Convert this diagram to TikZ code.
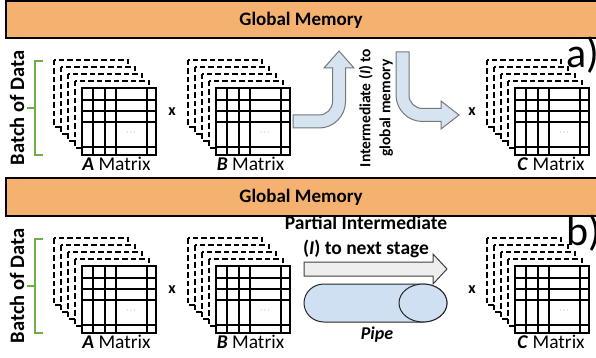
\documentclass[tikz,border=0pt]{standalone}
\usepackage{fontspec}
\setmainfont{Carlito}
\definecolor{gmem}{RGB}{245,177,112}
\definecolor{abluefill}{RGB}{214,228,242}
\definecolor{aborder}{RGB}{120,120,120}
\definecolor{pipefill}{RGB}{207,224,242}
\definecolor{grayfill}{RGB}{238,238,238}
\definecolor{bracegreen}{RGB}{112,173,71}
\tikzset{
  membar/.style={fill=gmem,draw=black,line width=1.3pt},
  layer/.style={draw=black,fill=white,dash pattern=on 5.5pt off 3pt,line width=1.2pt},
  gridline/.style={draw=black,line width=1.5pt},
  bigtxt/.style={font=\fontsize{19.5}{21}\selectfont},
  boldtxt/.style={font=\bfseries\fontsize{19}{21}\selectfont},
  batchtxt/.style={font=\bfseries\fontsize{20.5}{22}\selectfont},
  timestxt/.style={font=\bfseries\fontsize{16}{17}\selectfont},
  paneltxt/.style={font=\fontsize{42}{44}\selectfont,inner sep=0pt},
  batchbrace/.style={draw=bracegreen,line width=1.5pt},
  bluearrow/.style={fill=abluefill,draw=aborder,line width=1pt},
  grayarrow/.style={fill=grayfill,draw=black!75,line width=1pt},
  pipebody/.style={fill=pipefill,draw=black!85,line width=1pt}
}
\newcommand\mystack[2]{%
  \begin{scope}[shift={(#1,#2)}]
    \foreach \k in {4,3,2,1} {\path[layer] ({-7*\k},{-7*\k}) rectangle ++(74,67);}
    \fill[white] (0,0) rectangle (74,67);
    \draw[gridline] (0,0) rectangle (74,67);
    \foreach \c in {11,23,34,65} {\draw[gridline] (\c,0) -- (\c,67);}
    \foreach \r in {12,23,34,59} {\draw[gridline] (0,\r) -- (74,\r);}
    \node[font=\fontsize{8}{8}\selectfont,text=black!70] at (49,45) {$\cdots$};
  \end{scope}}
\begin{document}
\begin{tikzpicture}[x=1pt,y=-1pt]
\useasboundingbox (0,0) rectangle (596,358);
% ---------- panel a ----------
\path[membar] (6,1) rectangle (610,38);
\node[boldtxt] (gma) at (301,20) {Global Memory};
\mystack{82}{88}
\mystack{216}{88}
\mystack{515}{88}
\node[bigtxt,anchor=base] (laa) at (116.5,170) {\textbf{\textit{A}} Matrix};
\node[bigtxt,anchor=base] (lba) at (250.5,170) {\textbf{\textit{B}} Matrix};
\node[bigtxt,anchor=base] (lca) at (551,170) {\textbf{\textit{C}} Matrix};
\node[timestxt] (xa1) at (172,112) {x};
\node[timestxt] (xa2) at (472,112) {x};
\draw[batchbrace] (43,61) -- (35,61) -- (35,155) -- (43,155) (35,108) -- (27,108);
\node[batchtxt,rotate=90] (bda) at (17,108) {Batch of Data};
\node[paneltxt,anchor=base west] (pa) at (566,68) {a)};
\path[bluearrow] (293,115) -- (319,115) arc[start angle=90,end angle=0,radius=13.5]
  -- (332.5,68) -- (324,68) -- (339,51) -- (354,68) -- (345.5,68) -- (345.5,101.5)
  arc[start angle=0,end angle=90,radius=26.5] -- (293,128) -- cycle;
\path[bluearrow] (396,52) -- (409,52) -- (409,95) arc[start angle=180,end angle=90,radius=13.5]
  -- (441,108.5) -- (441,101) -- (459,115) -- (441,129) -- (441,121.5) -- (422.5,121.5)
  arc[start angle=90,end angle=180,radius=26.5] -- cycle;
\node[font=\bfseries\fontsize{15.5}{20}\selectfont,rotate=90,align=center] (ita) at (376,108)
  {Intermediate (\textit{I}) to\\global memory};
% ---------- panel b ----------
\path[membar] (6,178) rectangle (610,216);
\node[boldtxt] (gmb) at (301,197) {Global Memory};
\mystack{82}{266}
\mystack{216}{266}
\mystack{515}{266}
\node[bigtxt,anchor=base] (lab) at (116.5,348) {\textbf{\textit{A}} Matrix};
\node[bigtxt,anchor=base] (lbb) at (250.5,348) {\textbf{\textit{B}} Matrix};
\node[bigtxt,anchor=base] (lcb) at (551,348) {\textbf{\textit{C}} Matrix};
\node[timestxt] (xb1) at (172,290) {x};
\node[timestxt] (xb2) at (472,290) {x};
\draw[batchbrace] (43,239) -- (35,239) -- (35,333) -- (43,333) (35,286) -- (27,286);
\node[batchtxt,rotate=90] (bdb) at (17,286) {Batch of Data};
\node[paneltxt,anchor=base west] (pb) at (566,245) {b)};
\node[font=\bfseries\fontsize{19.5}{25}\selectfont,align=center] (pit) at (366,237) {Partial Intermediate\\(\textit{I}) to next stage};
\path[grayarrow] (304,262) -- (433,262) -- (433,254) -- (447,269) -- (433,284) -- (433,276) -- (304,276) -- cycle;
\path[pipebody] (324,284) -- (423,284) arc[start angle=270,end angle=450,x radius=24,y radius=19]
  -- (324,322) arc[start angle=90,end angle=270,x radius=20,y radius=19] -- cycle;
\draw[pipebody] (423,303) ellipse[x radius=24,y radius=19];
\node[font=\bfseries\itshape\fontsize{18}{20}\selectfont] (pipe) at (377,335) {Pipe};
\end{tikzpicture}
\end{document}
